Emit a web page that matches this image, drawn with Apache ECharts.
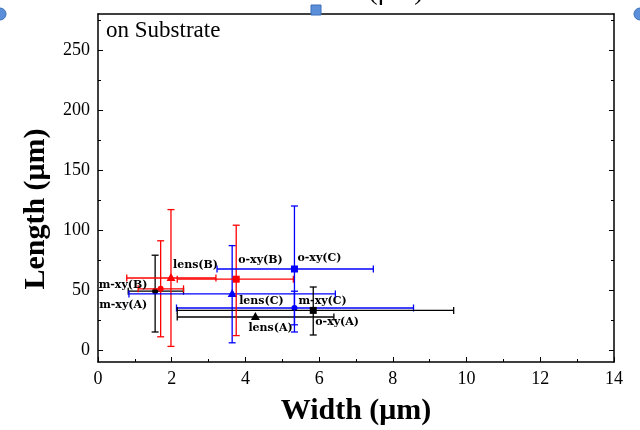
<!DOCTYPE html>
<html>
<head>
<meta charset="utf-8">
<script src="https://cdn.jsdelivr.net/npm/echarts@6/dist/echarts.min.js"></script>
<style>html,body{margin:0;padding:0;background:#fff}#c{width:640px;height:430px}</style>
</head>
<body>
<div id="c"></div>
<script>
// ---- data ----
const categories = ['m-xy(A)','m-xy(B)','m-xy(C)','lens(A)','lens(B)','lens(C)','o-xy(A)','o-xy(B)','o-xy(C)'];
const widthMean  = [1.55, 1.70, 5.33, 4.27, 1.98, 3.64, 5.84, 3.75, 5.33];
const widthLow   = [0.82, 1.09, 2.13, 2.15, 0.78, 0.84, 2.15, 2.15, 3.23];
const widthHigh  = [2.32, 2.32, 8.56, 6.40, 3.20, 6.44, 9.65, 5.30, 7.47];
const lengthMean = [49, 51, 35, 27.5, 60, 46.7, 33, 59, 67.5];
const lengthLow  = [15, 11, 21, 27.5, 3, 6, 12.5, 12, 15];
const lengthHigh = [79, 91, 49, 27.5, 117, 87, 52.5, 104, 120];
const xTickLabels = [0, 2, 4, 6, 8, 10, 12, 14];
const yTickLabels = [0, 50, 100, 150, 200, 250];
const yMinorTicks = [25, 75, 125, 175, 225, 275];

// ---- styles ----
const groupColor = {A: '#000000', B: '#ff0000', C: '#0000ff'};
const typeSymbol = {'m-xy': 'circle', 'lens': 'triangle', 'o-xy': 'square'};
const labelOffsets = [[-56,14],[-62,-4],[4,-7],[-7,11],[2,-13],[7,7],[2,12],[2,-19],[3,-11]];
const serif = '"Liberation Serif","Times New Roman",serif';

const seriesData = categories.map((c, i) => [widthMean[i], lengthMean[i], widthLow[i], widthHigh[i], lengthLow[i], lengthHigh[i], i]);

function renderItem(params, api) {
  const i = api.value(6);
  const name = categories[i];
  const grp = name.charAt(name.length - 2);
  const typ = name.split('(')[0];
  const color = groupColor[grp];
  const p = api.coord([api.value(0), api.value(1)]);
  const pl = api.coord([api.value(2), api.value(1)]);
  const ph = api.coord([api.value(3), api.value(1)]);
  const pb = api.coord([api.value(0), api.value(4)]);
  const pt = api.coord([api.value(0), api.value(5)]);
  const cap = 3.5;
  const ls = {stroke: color, lineWidth: 1.3};
  const ch = [];
  ch.push({type: 'line', shape: {x1: pl[0], y1: pl[1], x2: ph[0], y2: ph[1]}, style: ls});
  ch.push({type: 'line', shape: {x1: pl[0], y1: pl[1]-cap, x2: pl[0], y2: pl[1]+cap}, style: ls});
  ch.push({type: 'line', shape: {x1: ph[0], y1: ph[1]-cap, x2: ph[0], y2: ph[1]+cap}, style: ls});
  if (Math.abs(pb[1] - pt[1]) > 1) {
    ch.push({type: 'line', shape: {x1: pb[0], y1: pb[1], x2: pt[0], y2: pt[1]}, style: ls});
    ch.push({type: 'line', shape: {x1: pb[0]-cap, y1: pb[1], x2: pb[0]+cap, y2: pb[1]}, style: ls});
    ch.push({type: 'line', shape: {x1: pt[0]-cap, y1: pt[1], x2: pt[0]+cap, y2: pt[1]}, style: ls});
  }
  const sym = typeSymbol[typ];
  if (sym === 'circle') {
    ch.push({type: 'circle', shape: {cx: p[0], cy: p[1], r: 3}, style: {fill: color}});
  } else if (sym === 'square') {
    ch.push({type: 'rect', shape: {x: p[0]-3.5, y: p[1]-3.5, width: 7, height: 7}, style: {fill: color}});
  } else {
    ch.push({type: 'polygon', shape: {points: [[p[0], p[1]-5], [p[0]-4.5, p[1]+3], [p[0]+4.5, p[1]+3]]}, style: {fill: color}});
  }
  const off = labelOffsets[i];
  ch.push({type: 'text', x: p[0] + off[0], y: p[1] + off[1],
    style: {text: name, fill: '#000', font: 'bold 11px "DejaVu Serif",serif', textAlign: 'left', textVerticalAlign: 'middle'}});
  return {type: 'group', children: ch};
}

const chart = echarts.init(document.getElementById('c'), null, {renderer: 'canvas'});
const axisLineStyle = {color: '#000', width: 1.5};
chart.setOption({
  animation: false,
  backgroundColor: '#fff',
  grid: {left: 98, right: 26, top: 14, bottom: 68, containLabel: false, outerBoundsMode: 'none'},
  xAxis: [
    {type: 'value', min: 0, max: 14, interval: 2, position: 'bottom',
     axisLine: {show: true, onZero: false, lineStyle: axisLineStyle},
     axisTick: {show: true, inside: true, length: 5, lineStyle: {color: '#000', width: 1}},
     minorTick: {show: true, splitNumber: 2, length: 3, lineStyle: {color: '#000', width: 1}},
     splitLine: {show: false},
     axisLabel: {color: '#000', fontFamily: serif, fontSize: 18, margin: 8,
                 formatter: v => xTickLabels.includes(v) ? String(v) : ''},
     name: 'Width (μm)', nameLocation: 'middle', nameGap: 34,
     nameTextStyle: {color: '#000', fontFamily: serif, fontSize: 30, fontWeight: 'bold'}},
    {type: 'value', min: 0, max: 14, position: 'top',
     axisLine: {show: true, onZero: false, lineStyle: axisLineStyle},
     axisTick: {show: false}, axisLabel: {show: false}, splitLine: {show: false}}
  ],
  yAxis: [
    {type: 'value', min: -10, max: 280, position: 'left',
     axisLine: {show: true, onZero: false, lineStyle: axisLineStyle},
     axisTick: {show: true, inside: true, length: 5, customValues: yTickLabels, lineStyle: {color: '#000', width: 1}},
     axisLabel: {color: '#000', fontFamily: serif, fontSize: 18, margin: 8, customValues: yTickLabels},
     splitLine: {show: false}},
    {type: 'value', min: -10, max: 280, position: 'left',
     axisLine: {show: false, onZero: false},
     axisTick: {show: true, inside: true, length: 3, customValues: yMinorTicks, lineStyle: {color: '#000', width: 1}},
     axisLabel: {show: false, customValues: yMinorTicks}, splitLine: {show: false}},
    {type: 'value', min: -10, max: 280, position: 'right',
     axisLine: {show: true, onZero: false, lineStyle: axisLineStyle},
     axisTick: {show: true, inside: true, length: 5, customValues: yTickLabels, lineStyle: {color: '#000', width: 1}},
     axisLabel: {show: false, customValues: yTickLabels}, splitLine: {show: false}},
    {type: 'value', min: -10, max: 280, position: 'right',
     axisLine: {show: false, onZero: false},
     axisTick: {show: true, inside: true, length: 3, customValues: yMinorTicks, lineStyle: {color: '#000', width: 1}},
     axisLabel: {show: false, customValues: yMinorTicks}, splitLine: {show: false}}
  ],
  graphic: [
    {type: 'text', left: 106, top: 19, style: {text: 'on Substrate', fill: '#000', font: '23px ' + serif}},
    {type: 'text', x: 36, y: 209, rotation: Math.PI / 2,
     style: {text: 'Length (μm)', fill: '#000', font: 'bold 30px ' + serif, textAlign: 'center', textVerticalAlign: 'middle'}},
    {type: 'text', x: 358, y: -22, style: {text: 'Width (μm)', fill: '#000', font: '28px ' + serif, textAlign: 'center', textVerticalAlign: 'top'}},
    {type: 'circle', shape: {cx: 0, cy: 14, r: 6}, style: {fill: '#5b8fd9', stroke: '#3a6fb8', lineWidth: 1}, z: 100},
    {type: 'circle', shape: {cx: 640, cy: 14, r: 6}, style: {fill: '#5b8fd9', stroke: '#3a6fb8', lineWidth: 1}, z: 100},
    {type: 'rect', shape: {x: 311, y: 5, width: 10, height: 10}, style: {fill: '#5b8fd9', stroke: '#3a6fb8', lineWidth: 1}, z: 100}
  ],
  series: [{
    type: 'custom', coordinateSystem: 'cartesian2d', xAxisIndex: 0, yAxisIndex: 0,
    renderItem: renderItem, data: seriesData, clip: false
  }]
});
</script>
</body>
</html>
